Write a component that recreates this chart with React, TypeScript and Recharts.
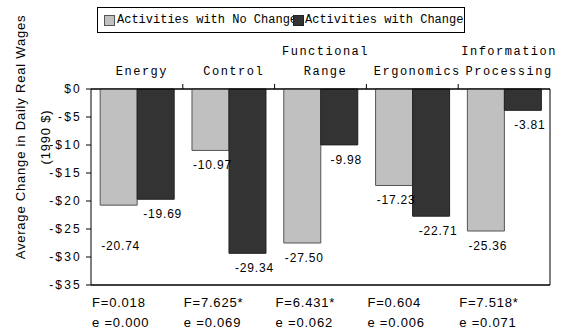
import React from 'react';
import { BarChart, Bar, XAxis, YAxis, CartesianGrid, Legend, LabelList, ReferenceLine } from 'recharts';

const categories = ['Energy', 'Control', 'Functional\nRange', 'Ergonomics', 'Information\nProcessing'];
const noChange = [-20.74, -10.97, -27.5, -17.23, -25.36];
const withChange = [-19.69, -29.34, -9.98, -22.71, -3.81];
const fStats = ['F=0.018', 'F=7.625*', 'F=6.431*', 'F=0.604', 'F=7.518*'];
const eStats = ['e =0.000', 'e =0.069', 'e =0.062', 'e =0.006', 'e =0.071'];
const yTicks = [0, -5, -10, -15, -20, -25, -30, -35];

const data = categories.map((name, i) => ({
  name,
  noChange: noChange[i],
  withChange: withChange[i],
  f: fStats[i],
  e: eStats[i],
}));

const GRAY = '#c0c0c0';
const DARK = '#333333';
const sans = '"Liberation Sans", Arial, sans-serif';
const mono = '"Liberation Mono", "Courier New", monospace';

const halfBand = (props: any) => {
  if (props.payload && typeof props.payload.offset === 'number' && props.payload.offset > 0) {
    return props.payload.offset;
  }
  return props.width && props.visibleTicksCount ? props.width / props.visibleTicksCount / 2 : 0;
};

// category names above the plot
const TopTick = (props: any) => {
  const { x, y, payload } = props;
  const lines = String(payload.value).split('\n');
  return (
    <text textAnchor="middle" fontFamily={mono} fontSize={12} letterSpacing={1.5} fill="#000">
      {lines.map((l, i) => (
        <tspan key={i} x={x + 5} y={y - 14 - (lines.length - 1 - i) * 20}>
          {l}
        </tspan>
      ))}
    </text>
  );
};

const BottomTick = (props: any) => {
  const { x, y, payload, index } = props;
  const half = halfBand(props);
  const row = data[index] || data.find((d) => d.name === payload.value);
  const left = x - half + 1;
  return (
    <text fontFamily={sans} fontSize={13} letterSpacing={0.8} fill="#000">
      <tspan x={left} y={y + 22}>{row?.f}</tspan>
      <tspan x={left} y={y + 42}>{row?.e}</tspan>
    </text>
  );
};

// label under the end of each bar; a grey label that would sit beside the
// dark one (values close together) is pushed down below it
const makeLabel = (series: 'noChange' | 'withChange') => (props: any) => {
  const { x, y, width, height, value, index } = props;
  const bottom = Math.max(y, y + height);
  let drop = 0;
  if (series === 'noChange' && index != null) {
    const other = withChange[index];
    if (Math.abs(other - value) < 3) drop = 26;
  }
  return (
    <text
      x={x + width / 2 + (series === 'withChange' ? 7 : 2)}
      y={bottom + 19 + drop}
      textAnchor="middle"
      fontFamily={sans}
      fontSize={12}
      letterSpacing={0.8}
      fill="#000"
    >
      {Number(value).toFixed(2)}
    </text>
  );
};

const GrayLabel = makeLabel('noChange');
const DarkLabel = makeLabel('withChange');

const YLabel = (props: any) => {
  const vb = props.viewBox || { x: 0, y: 89 };
  const cy = vb.y + 48;
  return (
    <g fontFamily={sans} fontSize={13} fill="#000" letterSpacing={0.8}>
      <text x={vb.x + 25} y={cy} textAnchor="middle" transform={`rotate(-90 ${vb.x + 25} ${cy})`}>
        Average Change in Daily Real Wages
      </text>
      <text x={vb.x + 50} y={cy} textAnchor="middle" transform={`rotate(-90 ${vb.x + 50} ${cy})`}>
        (1990 $)
      </text>
    </g>
  );
};

const LegendBox = () => (
  <div
    style={{
      position: 'relative',
      width: 368,
      height: 26,
      border: '1px solid #000',
      boxSizing: 'border-box',
      overflow: 'hidden',
      background: '#fff',
      fontFamily: mono,
      fontSize: 12,
      whiteSpace: 'nowrap',
      color: '#000',
    }}
  >
    <span style={{ position: 'absolute', left: 6, top: 7, width: 9, height: 9, background: GRAY, border: '1px solid #555' }} />
    <span style={{ position: 'absolute', left: 19, top: 4, lineHeight: '16px' }}>Activities with No Change</span>
    <span style={{ position: 'absolute', left: 195, top: 0, height: 24, width: 200 }}>
      <span style={{ position: 'absolute', left: 0, top: 7, width: 9, height: 9, background: DARK, border: '1px solid #222' }} />
      <span style={{ position: 'absolute', left: 12, top: 4, lineHeight: '16px', background: '#fff' }}>
        Activities with Change
      </span>
    </span>
  </div>
);

export default function App() {
  return (
    <div style={{ position: 'absolute', left: 0, top: 0, background: '#fff' }}>
      <BarChart
        width={564}
        height={331}
        data={data}
        margin={{ top: 0, right: 0, bottom: 0, left: 0 }}
        barCategoryGap="10%"
        barGap={0}
      >
        <CartesianGrid vertical={false} stroke="#000" strokeOpacity={1} />
        <XAxis
          xAxisId="top"
          orientation="top"
          dataKey="name"
          height={89}
          tickLine={false}
          tickSize={0}
          tickMargin={0}
          axisLine={{ stroke: '#000' }}
          tick={<TopTick />}
          interval={0}
        />
        <XAxis
          xAxisId="bottom"
          orientation="bottom"
          dataKey="name"
          height={46}
          tickLine={false}
          tickSize={0}
          tickMargin={0}
          axisLine={{ stroke: '#000' }}
          tick={<BottomTick />}
          interval={0}
        />
        <YAxis
          yAxisId="left"
          width={91}
          domain={[-35, 0]}
          ticks={yTicks}
          interval={0}
          tickSize={5}
          tickMargin={4}
          axisLine={{ stroke: '#000' }}
          tickLine={{ stroke: '#000' }}
          tick={{ fill: '#000', fontFamily: sans, fontSize: 12, letterSpacing: 2.2 }}
          tickFormatter={(v: number) => (v === 0 ? '$0' : `-$${-v}`)}
          label={{ content: <YLabel /> }}
        />
        <YAxis
          yAxisId="right"
          orientation="right"
          width={14}
          domain={[-35, 0]}
          tick={false}
          tickLine={false}
          axisLine={{ stroke: '#000' }}
        />
        <Legend
          layout="vertical"
          align="center"
          verticalAlign="middle"
          wrapperStyle={{ top: 7, left: 97, width: 368 }}
          content={<LegendBox />}
        />
        <Bar
          xAxisId="top"
          yAxisId="left"
          dataKey="noChange"
          name="Activities with No Change"
          fill={GRAY}
          stroke="#555"
          strokeWidth={1}
          isAnimationActive={false}
        >
          <LabelList dataKey="noChange" content={<GrayLabel />} />
        </Bar>
        <Bar
          xAxisId="top"
          yAxisId="left"
          dataKey="withChange"
          name="Activities with Change"
          fill={DARK}
          stroke="#222"
          strokeWidth={1}
          isAnimationActive={false}
        >
          <LabelList dataKey="withChange" content={<DarkLabel />} />
        </Bar>
        {/* short ticks above the plot on the boundary between categories */}
        {categories.slice(1).map((c) => (
          <ReferenceLine
            key={c}
            xAxisId="top"
            yAxisId="left"
            segment={[
              { x: c, y: 0 },
              { x: c, y: 0.9 },
            ]}
            position="start"
            ifOverflow="visible"
            stroke="#000"
            strokeWidth={1}
          />
        ))}
      </BarChart>
    </div>
  );
}
